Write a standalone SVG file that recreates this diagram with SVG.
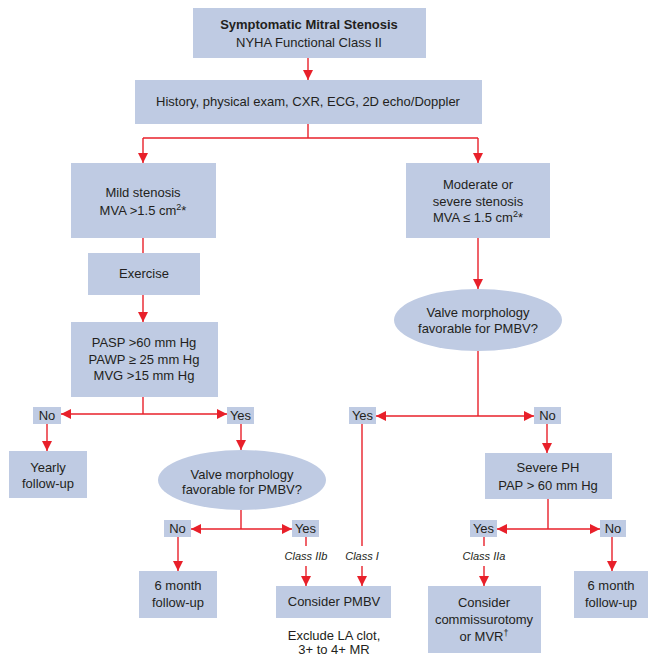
<svg xmlns="http://www.w3.org/2000/svg" width="648" height="656" viewBox="0 0 648 656">
<defs>
<marker id="ah" viewBox="0 0 10 10" refX="10" refY="5" markerWidth="10" markerHeight="10" markerUnits="userSpaceOnUse" orient="auto">
<path d="M0,0 L10,5 L0,10 z" fill="#e8202a"/>
</marker>
<style>
.b{fill:#bfcbe3}
.t{font-family:"Liberation Sans",Arial,sans-serif;font-size:13px;fill:#231f20;text-anchor:middle}
.s{font-family:"Liberation Sans",Arial,sans-serif;font-size:11px;font-style:italic;fill:#231f20;text-anchor:middle}
.c line,.c polyline{stroke:#e8202a;stroke-width:1.4;fill:none}
</style>
</defs>
<rect width="648" height="656" fill="#fff"/>

<g class="c" id="connectors">
<line x1="308" y1="58" x2="308" y2="80" marker-end="url(#ah)"/>
<line x1="308" y1="124" x2="308" y2="138"/>
<line x1="143" y1="138" x2="478" y2="138"/>
<line x1="143" y1="138" x2="143" y2="163" marker-end="url(#ah)"/>
<line x1="478" y1="138" x2="478" y2="163" marker-end="url(#ah)"/>
<line x1="143" y1="238" x2="143" y2="253"/>
<line x1="143" y1="295" x2="143" y2="322" marker-end="url(#ah)"/>
<line x1="143" y1="397" x2="143" y2="414"/>
<line x1="143" y1="414" x2="61" y2="414" marker-end="url(#ah)"/>
<line x1="143" y1="414" x2="227" y2="414" marker-end="url(#ah)"/>
<line x1="47" y1="424" x2="47" y2="451" marker-end="url(#ah)"/>
<line x1="241" y1="424" x2="241" y2="450" marker-end="url(#ah)"/>
<line x1="241" y1="510" x2="241" y2="529"/>
<line x1="241" y1="529" x2="191" y2="529" marker-end="url(#ah)"/>
<line x1="241" y1="529" x2="292" y2="529" marker-end="url(#ah)"/>
<line x1="178" y1="537" x2="178" y2="571" marker-end="url(#ah)"/>
<line x1="306" y1="537" x2="306" y2="546"/>
<line x1="306" y1="566" x2="306" y2="586" marker-end="url(#ah)"/>
<line x1="362" y1="424" x2="362" y2="546"/>
<line x1="362" y1="566" x2="362" y2="586" marker-end="url(#ah)"/>
<line x1="478" y1="238" x2="478" y2="289" marker-end="url(#ah)"/>
<line x1="478" y1="351" x2="478" y2="416"/>
<line x1="478" y1="416" x2="376" y2="416" marker-end="url(#ah)"/>
<line x1="478" y1="416" x2="534" y2="416" marker-end="url(#ah)"/>
<line x1="547" y1="424" x2="547" y2="453" marker-end="url(#ah)"/>
<line x1="548" y1="499" x2="548" y2="529"/>
<line x1="548" y1="529" x2="497" y2="529" marker-end="url(#ah)"/>
<line x1="548" y1="529" x2="600" y2="529" marker-end="url(#ah)"/>
<line x1="484" y1="537" x2="484" y2="546"/>
<line x1="484" y1="566" x2="484" y2="586" marker-end="url(#ah)"/>
<line x1="612" y1="537" x2="612" y2="571" marker-end="url(#ah)"/>
</g>

<g id="n-start">
<rect class="b" x="193" y="8" width="233" height="50"/>
<text class="t" x="309" y="29" font-weight="bold">Symptomatic Mitral Stenosis</text>
<text class="t" x="309" y="47">NYHA Functional Class II</text>
</g>
<g id="n-history">
<rect class="b" x="135" y="80" width="347" height="44"/>
<text class="t" x="308" y="106">History, physical exam, CXR, ECG, 2D echo/Doppler</text>
</g>
<g id="n-mild">
<rect class="b" x="71" y="163" width="145" height="75"/>
<text class="t" x="143" y="197">Mild stenosis</text>
<text class="t" x="143" y="215">MVA &gt;1.5 cm<tspan font-size="9" dy="-5">2</tspan><tspan dy="5">*</tspan></text>
</g>
<g id="n-exercise">
<rect class="b" x="88" y="253" width="112" height="42"/>
<text class="t" x="144" y="278">Exercise</text>
</g>
<g id="n-pasp">
<rect class="b" x="71" y="322" width="147" height="75"/>
<text class="t" x="144" y="347">PASP &gt;60 mm Hg</text>
<text class="t" x="144" y="364">PAWP ≥ 25 mm Hg</text>
<text class="t" x="144" y="380">MVG &gt;15 mm Hg</text>
</g>
<g id="n-moderate">
<rect class="b" x="406" y="163" width="144" height="75"/>
<text class="t" x="478" y="189">Moderate or</text>
<text class="t" x="478" y="206">severe stenosis</text>
<text class="t" x="478" y="222">MVA ≤ 1.5 cm<tspan font-size="9" dy="-5">2</tspan><tspan dy="5">*</tspan></text>
</g>
<g id="n-valve-right">
<ellipse class="b" cx="478" cy="320" rx="84" ry="31"/>
<text class="t" x="478" y="317">Valve morphology</text>
<text class="t" x="478" y="333">favorable for PMBV?</text>
</g>
<g id="n-no1">
<rect class="b" x="33" y="407" width="28" height="17"/>
<text class="t" x="47" y="420">No</text>
</g>
<g id="n-yes1">
<rect class="b" x="227" y="407" width="27" height="17"/>
<text class="t" x="240.5" y="420">Yes</text>
</g>
<g id="n-yes2">
<rect class="b" x="349" y="407" width="27" height="17"/>
<text class="t" x="362.5" y="420">Yes</text>
</g>
<g id="n-no2">
<rect class="b" x="534" y="407" width="27" height="17"/>
<text class="t" x="547.5" y="420">No</text>
</g>
<g id="n-yearly">
<rect class="b" x="9" y="451" width="78" height="47"/>
<text class="t" x="48" y="472">Yearly</text>
<text class="t" x="48" y="488">follow-up</text>
</g>
<g id="n-valve-left">
<ellipse class="b" cx="242" cy="480" rx="84" ry="30"/>
<text class="t" x="242" y="479">Valve morphology</text>
<text class="t" x="242" y="494">favorable for PMBV?</text>
</g>
<g id="n-severe">
<rect class="b" x="485" y="453" width="127" height="46"/>
<text class="t" x="548" y="472">Severe PH</text>
<text class="t" x="548" y="490">PAP &gt; 60 mm Hg</text>
</g>
<g id="n-no3">
<rect class="b" x="164" y="520" width="27" height="17"/>
<text class="t" x="177.5" y="533">No</text>
</g>
<g id="n-yes3">
<rect class="b" x="292" y="520" width="27" height="17"/>
<text class="t" x="305.5" y="533">Yes</text>
</g>
<g id="n-yes4">
<rect class="b" x="470" y="520" width="27" height="17"/>
<text class="t" x="483.5" y="533">Yes</text>
</g>
<g id="n-no4">
<rect class="b" x="600" y="520" width="26" height="17"/>
<text class="t" x="613" y="533">No</text>
</g>
<g id="labels">
<text class="s" x="306" y="560">Class IIb</text>
<text class="s" x="362" y="560">Class I</text>
<text class="s" x="484" y="560">Class IIa</text>
</g>
<g id="n-6month-left">
<rect class="b" x="139" y="571" width="78" height="47"/>
<text class="t" x="178" y="590">6 month</text>
<text class="t" x="178" y="607">follow-up</text>
</g>
<g id="n-pmbv">
<rect class="b" x="276" y="586" width="115" height="32"/>
<text class="t" x="334" y="606">Consider PMBV</text>
<text class="t" x="334" y="640">Exclude LA clot,</text>
<text class="t" x="334" y="654">3+ to 4+ MR</text>
</g>
<g id="n-commiss">
<rect class="b" x="428" y="586" width="113" height="67"/>
<text class="t" x="484" y="607">Consider</text>
<text class="t" x="484" y="624">commissurotomy</text>
<text class="t" x="484" y="641">or MVR<tspan font-size="9" dy="-5">†</tspan></text>
</g>
<g id="n-6month-right">
<rect class="b" x="574" y="571" width="74" height="47"/>
<text class="t" x="611" y="590">6 month</text>
<text class="t" x="611" y="607">follow-up</text>
</g>
</svg>
